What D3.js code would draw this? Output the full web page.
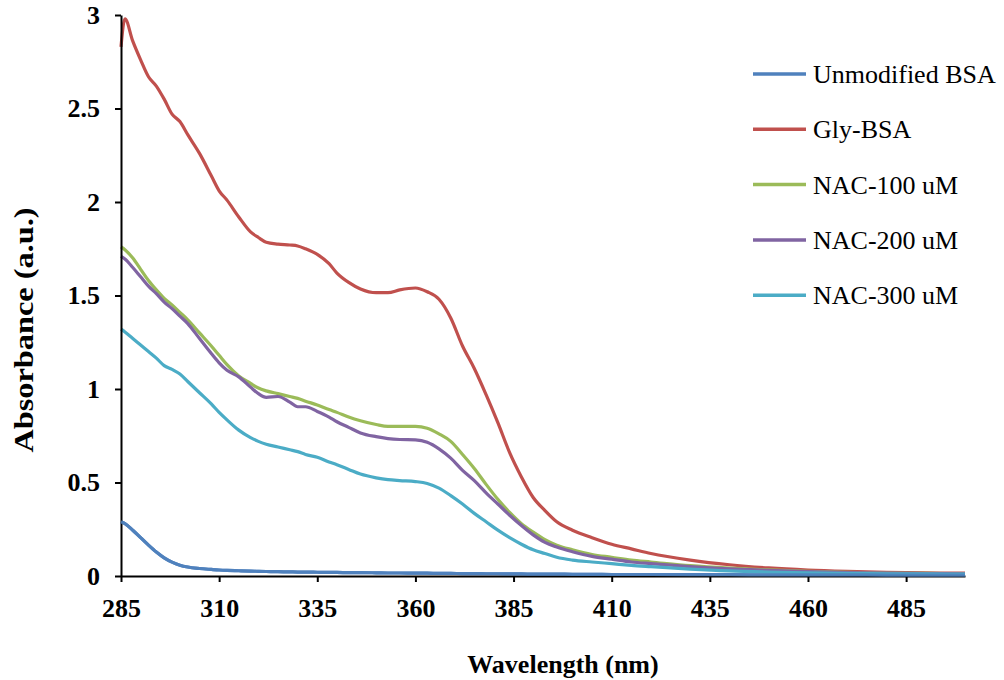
<!DOCTYPE html>
<html>
<head>
<meta charset="utf-8">
<script src="https://cdn.jsdelivr.net/npm/d3@7"></script>
<style>
  body { margin: 0; background: #fff; }
  svg { display: block; }
</style>
</head>
<body>
<div id="chart"></div>
<script>
// wavelengths (nm)
const wavelength = [285,286,288,290,292,294,296,298,300,302,305,308,310,312,315,318,320,322,325,328,330,332,335,338,340,343,346,350,353,356,360,363,366,369,372,375,378,381,384,387,390,393,396,400,405,410,415,420,430,440,450,460,470,480,490,500]

const unmodified = [0.29,0.28,0.245,0.205,0.165,0.128,0.097,0.074,0.058,0.048,0.04,0.035,0.032,0.03,0.028,0.026,0.025,0.024,0.023,0.022,0.021,0.021,0.02,0.019,0.019,0.018,0.018,0.017,0.016,0.016,0.015,0.015,0.014,0.014,0.013,0.013,0.012,0.012,0.011,0.011,0.01,0.01,0.01,0.009,0.009,0.008,0.008,0.008,0.007,0.007,0.006,0.006,0.006,0.005,0.005,0.005]
const glyBSA = [2.83,2.98,2.86,2.76,2.67,2.62,2.55,2.47,2.43,2.36,2.26,2.14,2.06,2.01,1.92,1.84,1.81,1.785,1.775,1.77,1.765,1.75,1.72,1.67,1.62,1.57,1.535,1.515,1.515,1.53,1.54,1.52,1.48,1.38,1.23,1.11,0.97,0.82,0.66,0.53,0.42,0.35,0.29,0.245,0.205,0.17,0.145,0.12,0.085,0.06,0.043,0.032,0.025,0.02,0.017,0.015]
const nac100 = [1.76,1.745,1.70,1.64,1.58,1.53,1.485,1.45,1.41,1.37,1.30,1.23,1.18,1.13,1.07,1.03,1.005,0.99,0.975,0.96,0.95,0.935,0.915,0.89,0.875,0.85,0.83,0.81,0.80,0.80,0.80,0.79,0.76,0.72,0.65,0.575,0.49,0.41,0.34,0.28,0.235,0.195,0.165,0.14,0.115,0.10,0.085,0.075,0.055,0.042,0.033,0.025,0.02,0.016,0.014,0.012]
const nac200 = [1.71,1.695,1.65,1.60,1.55,1.51,1.465,1.43,1.39,1.35,1.27,1.19,1.14,1.10,1.065,1.01,0.975,0.955,0.96,0.93,0.905,0.905,0.88,0.85,0.825,0.795,0.765,0.745,0.735,0.73,0.728,0.715,0.68,0.63,0.565,0.51,0.445,0.385,0.325,0.27,0.22,0.18,0.155,0.13,0.105,0.09,0.075,0.066,0.05,0.038,0.03,0.023,0.018,0.015,0.013,0.012]
const nac300 = [1.32,1.305,1.27,1.235,1.20,1.165,1.125,1.105,1.08,1.04,0.98,0.92,0.875,0.835,0.78,0.74,0.72,0.705,0.69,0.675,0.665,0.65,0.635,0.61,0.595,0.57,0.545,0.525,0.515,0.51,0.505,0.495,0.47,0.43,0.385,0.335,0.29,0.245,0.205,0.17,0.14,0.12,0.10,0.085,0.075,0.066,0.057,0.05,0.037,0.027,0.021,0.017,0.014,0.012,0.011,0.01]

const seriesNames = ['Unmodified BSA', 'Gly-BSA', 'NAC-100 uM', 'NAC-200 uM', 'NAC-300 uM']
const seriesValues = [unmodified, glyBSA, nac100, nac200, nac300]
const seriesColors = ['#4F81BD', '#C0504D', '#9BBB59', '#8064A2', '#4BACC6']

const xTicks = [285, 310, 335, 360, 385, 410, 435, 460, 485]
const yTicks = [0, 0.5, 1, 1.5, 2, 2.5, 3]

const width = 1004
const height = 680
const font = '"Liberation Serif", "Times New Roman", serif'

const svg = d3.select('#chart').append('svg')
  .attr('width', width)
  .attr('height', height)

const x = d3.scaleLinear().domain([285, 500]).range([121, 965])
const y = d3.scaleLinear().domain([0, 3]).range([576, 15])

// lines first, axes drawn over the bottom
const line = d3.line()
  .x((d, i) => x(wavelength[i]))
  .y(d => y(d))
  .curve(d3.curveMonotoneX)

svg.append('g').selectAll('path')
  .data(seriesValues).enter().append('path')
  .attr('d', line)
  .attr('fill', 'none')
  .attr('stroke', (d, i) => seriesColors[i])
  .attr('stroke-width', 3.2)
  .attr('stroke-linejoin', 'round')

const yAxis = svg.append('g')
  .attr('transform', 'translate(121,0)')
  .call(d3.axisLeft(y).tickValues(yTicks).tickFormat(d3.format('')).tickSize(6).tickPadding(15).tickSizeOuter(0))

const xAxis = svg.append('g')
  .attr('transform', 'translate(0,576)')
  .call(d3.axisBottom(x).tickValues(xTicks).tickSize(6).tickPadding(17).tickSizeOuter(0))

;[yAxis, xAxis].forEach(ax => {
  ax.select('.domain').attr('stroke', '#000').attr('stroke-width', 2)
  ax.selectAll('.tick line').attr('stroke', '#000').attr('stroke-width', 2)
  ax.selectAll('.tick text')
    .attr('fill', '#000')
    .style('font-family', font)
    .style('font-weight', 'bold')
    .style('font-size', '26px')
})

// redraw blue on top of the x axis like the original
svg.append('path')
  .datum(unmodified)
  .attr('d', line)
  .attr('fill', 'none')
  .attr('stroke', seriesColors[0])
  .attr('stroke-width', 3.2)
  .attr('opacity', 0.9)

// axis titles
svg.append('text')
  .attr('x', 563)
  .attr('y', 673)
  .attr('text-anchor', 'middle')
  .style('font-family', font)
  .style('font-weight', 'bold')
  .style('font-size', '26px')
  .text('Wavelength (nm)')

svg.append('text')
  .attr('transform', 'translate(33,330) rotate(-90)')
  .attr('text-anchor', 'middle')
  .attr('textLength', 245)
  .attr('lengthAdjust', 'spacingAndGlyphs')
  .style('font-family', font)
  .style('font-weight', 'bold')
  .style('font-size', '27px')
  .text('Absorbance (a.u.)')

// legend
const legend = svg.append('g').selectAll('g')
  .data(seriesNames).enter().append('g')
  .attr('transform', (d, i) => `translate(753,${74 + i * 55.3})`)

legend.append('line')
  .attr('x1', 0).attr('x2', 53)
  .attr('stroke', (d, i) => seriesColors[i])
  .attr('stroke-width', 3.5)

legend.append('text')
  .attr('x', 60)
  .attr('y', 9)
  .style('font-family', font)
  .style('font-size', '26px')
  .text(d => d)
</script>
</body>
</html>
